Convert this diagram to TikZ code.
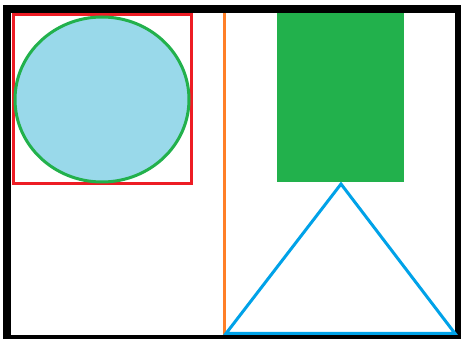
\documentclass[tikz,border=0pt]{standalone}
\definecolor{pred}{HTML}{ED1C24}
\definecolor{pgreen}{HTML}{22B14C}
\definecolor{pblue}{HTML}{00A2E8}
\definecolor{porange}{HTML}{FF7F27}
\definecolor{plight}{HTML}{99D9EA}
\begin{document}
\begin{tikzpicture}[x=1pt,y=-1pt,
  frame/.style={draw=black,line width=8pt},
  redbox/.style={draw=pred,line width=3pt},
  circ/.style={draw=pgreen,fill=plight,line width=3pt},
  greenbox/.style={fill=pgreen},
  divider/.style={draw=porange,line width=3pt},
  tri/.style={draw=pblue,line width=3pt,line join=miter}]
\useasboundingbox (0,0) rectangle (461,339);
\fill[white] (0,0) rectangle (461,339);
\begin{scope}
\clip (0,0) rectangle (461,339);
\draw[frame] (7,9) rectangle (458.5,339);
\end{scope}
\draw[redbox] (13.5,14.5) rectangle (191.5,183.5);
\draw[circ] (102,99.5) ellipse [x radius=87, y radius=82.5];
\fill[greenbox] (277,13) rectangle (404,182);
\draw[divider] (224,13) -- (224,335);
\coordinate (apex) at (341,184);
\coordinate (bl) at (226,333.5);
\coordinate (br) at (455,333.5);
\draw[tri] (apex) -- (bl) -- (br) -- cycle;
\end{tikzpicture}
\end{document}
